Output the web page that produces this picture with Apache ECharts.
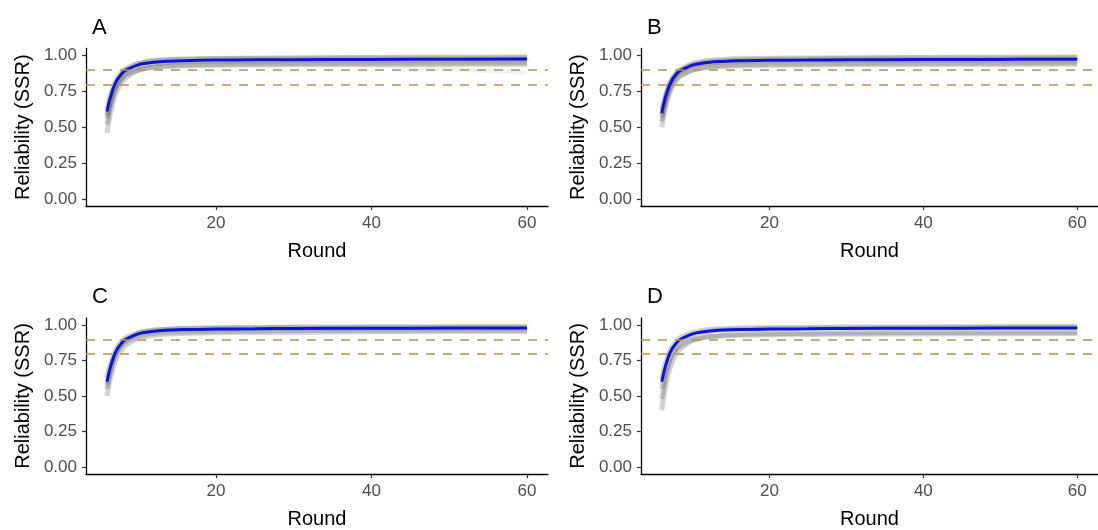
<!DOCTYPE html>
<html>
<head>
<meta charset="utf-8">
<script src="https://cdn.jsdelivr.net/npm/echarts@6/dist/echarts.min.js"></script>
<style>
  html, body { margin: 0; padding: 0; background: #fff; }
  #chart { width: 1098px; height: 530px; }
</style>
</head>
<body>
<div id="chart"></div>
<script>
// rounds shared by every curve
const rounds = [6, 7, 8, 9, 10, 11, 12, 14, 16, 20, 25, 30, 40, 50, 60]

// reference lines
const thresholds = [0.9, 0.8]
const xTicks = [20, 40, 60]
const yTicks = [0, 0.25, 0.5, 0.75, 1]
const panelLabels = ['A', 'B', 'C', 'D']

// panel A
const simsA = [
  [0.46, 0.715, 0.823, 0.867, 0.896, 0.911, 0.921, 0.930, 0.935, 0.940, 0.943, 0.945, 0.948, 0.949, 0.950],
  [0.52, 0.754, 0.853, 0.894, 0.921, 0.934, 0.943, 0.952, 0.957, 0.961, 0.963, 0.966, 0.968, 0.969, 0.970],
  [0.56, 0.784, 0.878, 0.917, 0.943, 0.956, 0.964, 0.973, 0.977, 0.981, 0.984, 0.986, 0.988, 0.989, 0.990],
  [0.63, 0.815, 0.893, 0.925, 0.946, 0.957, 0.964, 0.971, 0.974, 0.978, 0.980, 0.981, 0.983, 0.984, 0.985],
  [0.58, 0.767, 0.846, 0.879, 0.900, 0.911, 0.918, 0.926, 0.929, 0.933, 0.935, 0.936, 0.938, 0.939, 0.940]
]
const droopA = [0.60, 0.79, 0.87, 0.905, 0.925, 0.935, 0.942, 0.950, 0.955, 0.958, 0.956, 0.950, 0.930, 0.905, 0.880]
const meanA = [0.61, 0.80, 0.881, 0.914, 0.936, 0.947, 0.954, 0.961, 0.965, 0.969, 0.971, 0.972, 0.974, 0.975, 0.976]

// panel B
const simsB = [
  [0.50, 0.734, 0.833, 0.874, 0.901, 0.914, 0.923, 0.932, 0.937, 0.941, 0.943, 0.946, 0.948, 0.949, 0.950],
  [0.54, 0.771, 0.869, 0.909, 0.936, 0.949, 0.958, 0.967, 0.972, 0.976, 0.978, 0.981, 0.983, 0.984, 0.985],
  [0.57, 0.762, 0.844, 0.877, 0.899, 0.910, 0.918, 0.925, 0.929, 0.933, 0.934, 0.936, 0.938, 0.939, 0.940],
  [0.62, 0.802, 0.879, 0.911, 0.932, 0.942, 0.949, 0.956, 0.960, 0.963, 0.965, 0.967, 0.968, 0.969, 0.970],
  [0.59, 0.798, 0.886, 0.922, 0.946, 0.958, 0.966, 0.974, 0.978, 0.982, 0.984, 0.986, 0.988, 0.989, 0.990]
]
const meanB = [0.60, 0.795, 0.878, 0.911, 0.934, 0.945, 0.953, 0.960, 0.964, 0.968, 0.969, 0.971, 0.973, 0.974, 0.975]

// panel C
const simsC = [
  [0.50, 0.737, 0.837, 0.878, 0.905, 0.919, 0.928, 0.937, 0.941, 0.946, 0.948, 0.950, 0.953, 0.954, 0.955],
  [0.55, 0.779, 0.876, 0.915, 0.942, 0.955, 0.964, 0.972, 0.977, 0.981, 0.983, 0.986, 0.988, 0.989, 0.990],
  [0.58, 0.780, 0.865, 0.900, 0.923, 0.934, 0.942, 0.950, 0.953, 0.957, 0.959, 0.961, 0.963, 0.964, 0.965],
  [0.63, 0.815, 0.893, 0.925, 0.946, 0.957, 0.964, 0.971, 0.974, 0.978, 0.980, 0.981, 0.983, 0.984, 0.985]
]
const meanC = [0.60, 0.798, 0.881, 0.915, 0.938, 0.950, 0.957, 0.965, 0.969, 0.972, 0.974, 0.976, 0.978, 0.979, 0.980]

// panel D
const simsD = [
  [0.40, 0.686, 0.807, 0.857, 0.890, 0.906, 0.917, 0.928, 0.934, 0.939, 0.942, 0.945, 0.947, 0.949, 0.950],
  [0.48, 0.743, 0.854, 0.899, 0.929, 0.945, 0.955, 0.965, 0.970, 0.975, 0.977, 0.980, 0.982, 0.984, 0.985],
  [0.55, 0.753, 0.839, 0.874, 0.897, 0.909, 0.917, 0.924, 0.928, 0.932, 0.934, 0.936, 0.938, 0.939, 0.940],
  [0.62, 0.812, 0.894, 0.927, 0.949, 0.960, 0.968, 0.975, 0.979, 0.983, 0.984, 0.986, 0.988, 0.989, 0.990]
]
const meanD = [0.60, 0.798, 0.881, 0.915, 0.938, 0.950, 0.957, 0.965, 0.969, 0.972, 0.974, 0.976, 0.978, 0.979, 0.980]

const panels = [
  { sims: simsA, extra: [droopA], mean: meanA },
  { sims: simsB, extra: [], mean: meanB },
  { sims: simsC, extra: [], mean: meanC },
  { sims: simsD, extra: [], mean: meanD }
]

const FONT = "'Liberation Sans', Arial, sans-serif"

const grids = [
  { left: 86, top: 48.5, width: 462, height: 157.5 },
  { left: 641, top: 48.5, width: 462, height: 157.5 },
  { left: 86, top: 318, width: 462, height: 162.5 },
  { left: 641, top: 318, width: 462, height: 162.5 }
]

const toPairs = (vals) => rounds.map((r, i) => [r, vals[i]])

const xAxes = grids.map((g, i) => ({
  gridIndex: i,
  type: 'value',
  min: 3.3,
  max: 62.7,
  name: 'Round',
  nameLocation: 'middle',
  nameGap: 35,
  nameTextStyle: { fontSize: 20, color: '#000', fontFamily: FONT },
  axisLine: { show: true, onZero: false, lineStyle: { color: '#000', width: 1.3 } },
  axisTick: { show: true, length: 4, customValues: xTicks, lineStyle: { color: '#333', width: 1.2 } },
  axisLabel: { customValues: xTicks, color: '#4d4d4d', fontSize: 17, margin: 9, fontFamily: FONT },
  splitLine: { show: false }
}))

const yAxes = grids.map((g, i) => ({
  gridIndex: i,
  type: 'value',
  min: -0.05,
  max: 1.05,
  name: 'Reliability (SSR)',
  nameLocation: 'middle',
  nameGap: 53,
  nameTextStyle: { fontSize: 20, color: '#000', fontFamily: FONT },
  axisLine: { show: true, onZero: false, lineStyle: { color: '#000', width: 1.3 } },
  axisTick: { show: true, length: 4, customValues: yTicks, lineStyle: { color: '#333', width: 1.2 } },
  axisLabel: {
    customValues: yTicks,
    color: '#4d4d4d',
    fontSize: 17,
    margin: 9,
    fontFamily: FONT,
    formatter: (v) => v.toFixed(2)
  },
  splitLine: { show: false }
}))

const series = []
panels.forEach((p, i) => {
  p.sims.forEach((vals, k) => {
    series.push({
      type: 'line',
      xAxisIndex: i,
      yAxisIndex: i,
      data: toPairs(vals),
      showSymbol: false,
      smooth: 0.45,
      silent: true,
      z: 1,
      lineStyle: { color: 'rgba(95,95,95,0.28)', width: 5 },
      // dashed guides live on the first gray line of each panel
      markLine: k === 0 ? {
        silent: true,
        symbol: ['none', 'none'],
        label: { show: false },
        lineStyle: { color: '#c48a4e', type: [9, 8], width: 1.6 },
        data: thresholds.map(t => ({ yAxis: t }))
      } : undefined
    })
  })
  p.extra.forEach(vals => {
    series.push({
      type: 'line',
      xAxisIndex: i,
      yAxisIndex: i,
      data: toPairs(vals),
      showSymbol: false,
      smooth: 0.45,
      silent: true,
      z: 1,
      lineStyle: { color: 'rgba(150,150,150,0.14)', width: 4 }
    })
  })
  series.push({
    type: 'line',
    xAxisIndex: i,
    yAxisIndex: i,
    data: toPairs(p.mean),
    showSymbol: false,
    smooth: 0.45,
    silent: true,
    z: 3,
    lineStyle: { color: '#0a14d6', width: 3 }
  })
})

const titles = panelLabels.map((t, i) => ({
  text: t,
  left: grids[i].left + 1,
  top: grids[i].top - 37,
  textStyle: { fontSize: 22, fontWeight: 'normal', color: '#000', fontFamily: FONT }
}))

const chart = echarts.init(document.getElementById('chart'), null, { renderer: 'canvas' })
chart.setOption({
  animation: false,
  backgroundColor: '#fff',
  title: titles,
  grid: grids,
  xAxis: xAxes,
  yAxis: yAxes,
  series
})
</script>
</body>
</html>
